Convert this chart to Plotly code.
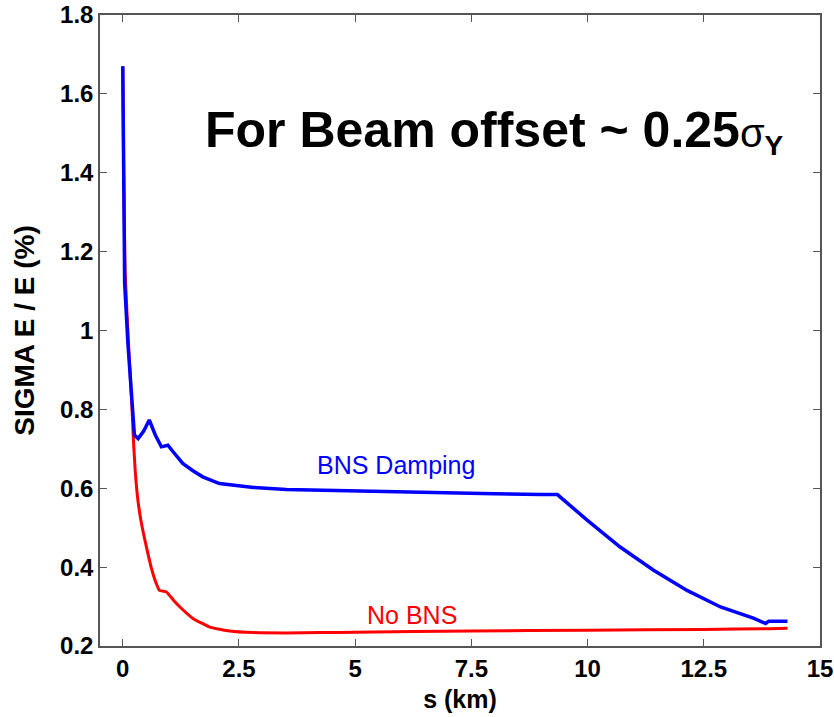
import plotly.graph_objects as go

# BNS Damping (blue)
s_bns = [0.0, 0.01, 0.04, 0.11, 0.18, 0.21, 0.25, 0.33, 0.45, 0.57, 0.70, 0.83, 0.97, 1.1, 1.29, 1.5, 1.72, 2.08, 2.5, 2.81, 3.52, 4.24, 5.0, 6.0, 7.0, 8.0, 9.0, 9.35, 9.99, 10.7, 11.42, 12.14, 12.86, 13.58, 13.83, 13.9, 14.3]
v_bns = [1.67, 1.44, 1.12, 0.968, 0.85, 0.78, 0.735, 0.726, 0.745, 0.773, 0.735, 0.705, 0.709, 0.69, 0.663, 0.645, 0.629, 0.612, 0.607, 0.602, 0.597, 0.595, 0.593, 0.590, 0.588, 0.586, 0.584, 0.584, 0.519, 0.451, 0.392, 0.341, 0.299, 0.270, 0.257, 0.263, 0.263]

# No BNS (red)
s_no = [0.0, 0.02, 0.05, 0.13, 0.2, 0.23, 0.27, 0.31, 0.36, 0.43, 0.52, 0.61, 0.70, 0.79, 0.94, 1.0, 1.1, 1.23, 1.51, 1.87, 2.3, 2.81, 3.52, 4.24, 5.0, 7.5, 10.0, 12.5, 13.9, 14.3]
v_no = [1.67, 1.40, 1.15, 0.95, 0.80, 0.72, 0.64, 0.585, 0.54, 0.494, 0.445, 0.40, 0.365, 0.341, 0.337, 0.329, 0.315, 0.299, 0.270, 0.248, 0.238, 0.234, 0.233, 0.234, 0.235, 0.238, 0.240, 0.242, 0.244, 0.245]

x_ticks = [0, 2.5, 5, 7.5, 10, 12.5, 15]
x_ticklabels = ["0", "2.5", "5", "7.5", "10", "12.5", "15"]
y_ticks = [0.2, 0.4, 0.6, 0.8, 1.0, 1.2, 1.4, 1.6, 1.8]
y_ticklabels = ["0.2", "0.4", "0.6", "0.8", "1", "1.2", "1.4", "1.6", "1.8"]

FONT = "Arial, Liberation Sans, sans-serif"
AX = "#555555"

fig = go.Figure()
fig.add_trace(go.Scatter(x=s_no, y=v_no, mode="lines", line=dict(color="#ff0000", width=3, shape="spline", smoothing=0.4), showlegend=False))
fig.add_trace(go.Scatter(x=s_bns, y=v_bns, mode="lines", line=dict(color="#0000ff", width=3.5), showlegend=False))

fig.add_annotation(x=5.88, y=0.659, xref="x", yref="y", text="BNS Damping", showarrow=False,
                   font=dict(family=FONT, size=25, color="#0000ff"))
fig.add_annotation(x=6.23, y=0.278, xref="x", yref="y", text="No BNS", showarrow=False,
                   font=dict(family=FONT, size=25, color="#ff0000"))
fig.add_annotation(x=8.0, y=1.505, xref="x", yref="y",
                   text="<b>For Beam offset ~ 0.25</b><span style='font-size:40px'>σ<sub><b>Y</b></sub></span>",
                   showarrow=False, font=dict(family=FONT, size=50, color="#000000"))

fig.update_layout(
    width=834, height=717,
    margin=dict(l=100, r=14, t=15, b=71),
    paper_bgcolor="white", plot_bgcolor="white",
    font=dict(family=FONT, color="#000000"),
)
fig.update_xaxes(
    range=[-0.49, 15], tickvals=x_ticks, ticktext=x_ticklabels,
    ticks="inside", ticklen=7, tickcolor=AX, mirror="ticks", automargin=False,
    showline=True, linecolor=AX, linewidth=1.5, showgrid=False, zeroline=False,
    tickfont=dict(family=FONT, size=24, color="#000000", weight="bold"),
    title=dict(text="<b>s (km)</b>", font=dict(family=FONT, size=25), standoff=10),
)
fig.update_yaxes(
    range=[0.2, 1.8], tickvals=y_ticks, ticktext=y_ticklabels,
    ticks="inside", ticklen=7, tickcolor=AX, mirror="ticks", automargin=False,
    showline=True, linecolor=AX, linewidth=1.5, showgrid=False, zeroline=False,
    tickfont=dict(family=FONT, size=24, color="#000000", weight="bold"),
    title=dict(text="<b>SIGMA E / E (%)</b>", font=dict(family=FONT, size=28), standoff=17),
)

fig.write_html("out.html")
